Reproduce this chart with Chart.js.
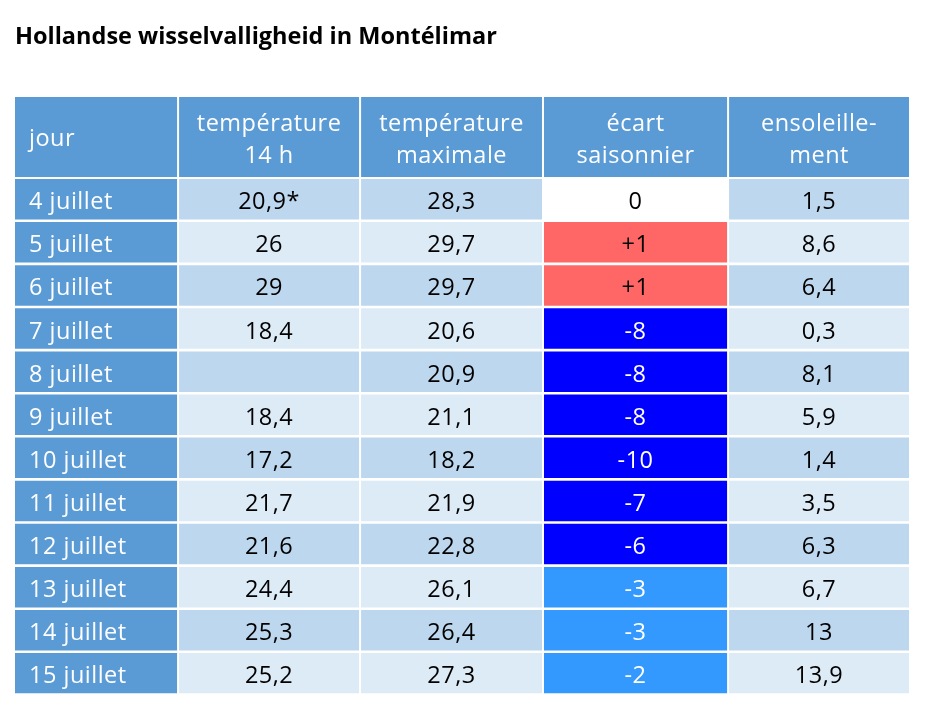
<!DOCTYPE html>
<html>
<head>
<meta charset="utf-8">
<title>Hollandse wisselvalligheid in Montélimar</title>
<script src="https://cdn.jsdelivr.net/npm/chart.js@4.4.0/dist/chart.umd.min.js"></script>
<style>
  html, body { margin: 0; background: #fff; }
  #wrap { width: 933px; height: 706px; }
</style>
</head>
<body>
<div id="wrap"><canvas id="weatherTable"></canvas></div>
<script>
// table values
const days = ['4 juillet', '5 juillet', '6 juillet', '7 juillet', '8 juillet', '9 juillet',
  '10 juillet', '11 juillet', '12 juillet', '13 juillet', '14 juillet', '15 juillet'];
const temp14 = [20.9, 26, 29, 18.4, null, 18.4, 17.2, 21.7, 21.6, 24.4, 25.3, 25.2];
const temp14Notes = ['*', '', '', '', '', '', '', '', '', '', '', ''];
const tempMax = [28.3, 29.7, 29.7, 20.6, 20.9, 21.1, 18.2, 21.9, 22.8, 26.1, 26.4, 27.3];
const ecart = [0, 1, 1, -8, -8, -8, -10, -7, -6, -3, -3, -2];
const sunshine = [1.5, 8.6, 6.4, 0.3, 8.1, 5.9, 1.4, 3.5, 6.3, 6.7, 13, 13.9];
const headers = [['jour'], ['température', '14 h'], ['température', 'maximale'],
  ['écart', 'saisonnier'], ['ensoleille-', 'ment']];

// layout (column edges in column units, rows in row units)
const colEdges = [0, 0.896, 1.896, 2.901, 3.918, 4.912];
const gap = 0.0055;
const headerPos = -0.444;
const yMin = -1.372, yMax = 12.47;

const BLUE = '#5B9BD5';
const BAND_DARK = '#BDD7EE';
const BAND_LIGHT = '#DDEBF7';
const FONT = '"Open Sans", sans-serif';

const fmt = v => v === null ? '' : String(v).replace('.', ',');
const fmtSigned = v => (v > 0 ? '+' : '') + v;

function ecartColor(v) {
  if (v > 0) return '#FF6666';
  if (v === 0) return '#FFFFFF';
  if (v <= -5) return '#0000FF';
  return '#3399FF';
}

const columnTexts = [
  days,
  temp14.map((v, i) => v === null ? '' : fmt(v) + temp14Notes[i]),
  tempMax.map(fmt),
  ecart.map(fmtSigned),
  sunshine.map(fmt)
];

function span(k) {
  const a = k === 0 ? colEdges[0] : colEdges[k] + gap;
  const b = k === colEdges.length - 2 ? colEdges[k + 1] : colEdges[k + 1] - gap;
  return [a, b];
}

const datasets = [];
headers.forEach((head, k) => {
  datasets.push({
    label: head.join(' '),
    data: [{ x: span(k), y: headerPos }],
    texts: [head],
    align: k === 0 ? 'left' : 'center',
    header: true,
    backgroundColor: BLUE,
    textColor: '#FFFFFF',
    barPercentage: 1.856
  });
  datasets.push({
    label: head.join(' ') + ' (valeurs)',
    data: days.map((d, i) => ({ x: span(k), y: i + 1 })),
    texts: columnTexts[k].map(t => [t]),
    align: k === 0 ? 'left' : 'center',
    header: false,
    backgroundColor: ctx => {
      const i = ctx.dataIndex;
      if (k === 0) return BLUE;
      if (k === 3) return ecartColor(ecart[i]);
      return i % 2 === 0 ? BAND_DARK : BAND_LIGHT;
    },
    textColor: i => {
      if (k === 0) return '#FFFFFF';
      if (k === 3 && ecart[i] < 0) return '#FFFFFF';
      return '#000000';
    },
    barPercentage: 0.94
  });
});

const cellText = {
  id: 'cellText',
  afterDatasetsDraw(chart) {
    const ctx = chart.ctx;
    ctx.save();
    ctx.font = '23.5px ' + FONT;
    ctx.letterSpacing = '0.5px';
    ctx.textBaseline = 'alphabetic';
    chart.data.datasets.forEach((ds, d) => {
      const meta = chart.getDatasetMeta(d);
      meta.data.forEach((bar, i) => {
        const p = bar.getProps(['x', 'y', 'base'], true);
        const left = Math.min(p.x, p.base), right = Math.max(p.x, p.base);
        const lines = ds.texts[i];
        ctx.fillStyle = typeof ds.textColor === 'function' ? ds.textColor(i) : ds.textColor;
        ctx.textAlign = ds.align;
        const tx = ds.align === 'left' ? left + 14 : (left + right) / 2;
        let offsets;
        if (lines.length === 2) offsets = [-6, 26];
        else offsets = [ds.header ? 9 : 10];
        lines.forEach((line, j) => ctx.fillText(line, tx, p.y + offsets[j]));
      });
    });
    ctx.restore();
  }
};

new Chart(document.getElementById('weatherTable'), {
  type: 'bar',
  data: { datasets },
  options: {
    indexAxis: 'y',
    responsive: true,
    maintainAspectRatio: false,
    animation: false,
    grouped: false,
    categoryPercentage: 1,
    borderWidth: 0,
    layout: { padding: { left: 15, right: 24, top: 0, bottom: 12.4 } },
    scales: {
      x: { type: 'linear', bounds: 'data', offset: false, min: colEdges[0], max: colEdges[colEdges.length - 1],
           display: false, ticks: { count: 2 } },
      y: { type: 'linear', bounds: 'data', offset: false, min: yMin, max: yMax, reverse: true,
           display: false, ticks: { count: 2 } }
    },
    plugins: {
      legend: { display: false },
      tooltip: { enabled: false },
      title: {
        display: true,
        text: 'Hollandse wisselvalligheid in Montélimar',
        align: 'start',
        color: '#000000',
        font: { family: FONT, size: 23.5, weight: 'bold' },
        padding: { top: 23, bottom: 45.8 }
      }
    }
  },
  plugins: [cellText]
});
</script>
</body>
</html>
